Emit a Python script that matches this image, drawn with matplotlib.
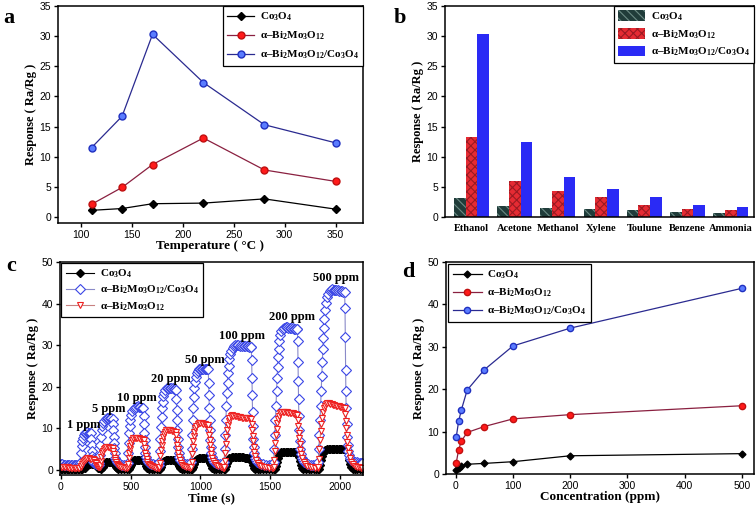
import numpy as np
import matplotlib
matplotlib.use('Agg')
import matplotlib.pyplot as plt

plt.rcParams['font.family'] = 'Liberation Sans'
plt.rcParams['mathtext.fontset'] = 'custom'
plt.rcParams['mathtext.rm'] = 'Liberation Serif:bold'
plt.rcParams['mathtext.it'] = 'Liberation Serif:bold:italic'
plt.rcParams['mathtext.bf'] = 'Liberation Serif:bold'
plt.rcParams['mathtext.default'] = 'rm'

# ---- labels
lab_co = 'Co$_3$O$_4$'
lab_bi = 'α–Bi$_2$Mo$_3$O$_{12}$'
lab_comp = 'α–Bi$_2$Mo$_3$O$_{12}$/Co$_3$O$_4$'

# ---- panel a: response vs temperature
temp = [110, 140, 170, 220, 280, 350]
a_co = [1.1, 1.4, 2.2, 2.3, 3.0, 1.3]
a_bi = [2.1, 4.9, 8.7, 13.1, 7.8, 5.9]
a_comp = [11.5, 16.7, 30.3, 22.3, 15.3, 12.3]

# ---- panel b: selectivity
gases = ['Ethanol', 'Acetone', 'Methanol', 'Xylene', 'Toulune', 'Benzene', 'Ammonia']
b_co = [3.1, 1.8, 1.5, 1.3, 1.2, 0.8, 0.6]
b_bi = [13.2, 5.9, 4.3, 3.4, 2.0, 1.3, 1.1]
b_comp = [30.3, 12.4, 6.6, 4.7, 3.3, 2.0, 1.6]

# ---- panel c: dynamic response (time s, response)
c_comp = [
    (0, 1.4), (10, 1.4), (20, 1.3), (30, 1.3), (40, 1.3), (50, 1.3), (60, 1.2), (70, 1.2), (80, 1.2),
    (90, 1.2), (100, 1.2), (110, 1.2), (120, 1.2), (130, 1.3), (136, 1.6),
    (140, 2.0), (144, 4.0), (148, 5.8), (152, 7.0), (156, 7.8), (162, 8.4), (170, 8.8), (180, 9.0),
    (190, 9.1), (200, 9.0), (210, 8.9), (214, 8.8),
    (217, 7.5), (219, 6.0), (221, 4.6), (223, 3.4), (226, 2.6), (230, 2.0), (240, 1.7), (250, 1.5),
    (260, 1.4), (270, 1.3),
    (275, 1.6), (279, 3.5), (283, 6.0), (287, 8.0), (291, 9.5), (296, 10.6), (302, 11.4), (310, 11.9),
    (320, 12.3), (330, 12.5), (340, 12.6), (350, 12.5), (360, 12.4), (370, 12.3),
    (373, 11.0), (375, 9.5), (377, 8.0), (379, 6.5), (381, 5.2), (384, 4.0), (388, 3.0), (394, 2.3),
    (402, 1.9), (412, 1.6), (425, 1.4), (440, 1.3), (455, 1.3), (468, 1.3),
    (478, 1.8), (482, 4.0), (486, 6.5), (490, 8.8), (494, 10.6), (498, 12.0), (503, 13.2), (510, 14.1),
    (520, 14.7), (530, 15.0), (540, 15.2), (550, 15.3), (560, 15.2), (570, 15.1), (580, 15.0), (590, 14.9),
    (594, 13.0), (596, 11.0), (598, 9.0), (600, 7.2), (602, 5.6), (605, 4.2), (609, 3.2), (615, 2.5),
    (623, 2.0), (633, 1.7), (645, 1.5), (660, 1.4), (675, 1.3), (690, 1.3), (700, 1.3),
    (705, 2.0), (709, 4.5), (713, 7.5), (717, 10.3), (721, 12.8), (725, 14.8), (729, 16.4), (734, 17.7),
    (740, 18.6), (748, 19.2), (758, 19.6), (770, 19.8), (780, 19.8), (790, 19.7), (800, 19.6), (810, 19.5),
    (820, 19.4), (825, 19.3),
    (828, 17.0), (830, 14.5), (832, 12.0), (834, 9.5), (836, 7.5), (839, 5.6), (843, 4.2), (848, 3.2),
    (855, 2.5), (864, 2.0), (875, 1.7), (890, 1.5), (905, 1.4), (920, 1.3),
    (932, 2.0), (936, 5.0), (940, 8.5), (944, 12.0), (948, 15.0), (952, 17.6), (956, 19.6), (960, 21.2),
    (965, 22.4), (972, 23.3), (980, 23.8), (990, 24.2), (1000, 24.4), (1010, 24.4), (1020, 24.4),
    (1030, 24.3), (1040, 24.3), (1050, 24.2), (1055, 24.2),
    (1059, 21.0), (1061, 18.0), (1063, 15.0), (1065, 12.0), (1067, 9.5), (1070, 7.2), (1073, 5.5),
    (1077, 4.2), (1083, 3.2), (1090, 2.5), (1100, 2.0), (1112, 1.7), (1125, 1.5), (1140, 1.4),
    (1155, 1.3), (1165, 1.3),
    (1170, 2.0), (1174, 5.0), (1178, 8.5), (1182, 12.0), (1186, 15.5), (1190, 18.5), (1194, 21.0),
    (1198, 23.2), (1202, 25.0), (1207, 26.6), (1213, 27.8), (1220, 28.7), (1230, 29.4), (1240, 29.8),
    (1250, 30.0), (1260, 30.1), (1270, 30.0), (1280, 29.9), (1290, 30.0), (1300, 29.9), (1310, 29.8),
    (1320, 29.8), (1330, 29.7), (1340, 29.7), (1350, 29.6), (1360, 29.6), (1364, 29.5),
    (1367, 26.5), (1369, 22.0), (1371, 18.0), (1373, 14.0), (1375, 10.5), (1378, 7.5), (1381, 5.5),
    (1385, 4.0), (1391, 3.0), (1398, 2.4), (1408, 2.0), (1420, 1.7), (1435, 1.5), (1450, 1.4),
    (1470, 1.3), (1490, 1.3), (1505, 1.3), (1518, 1.4),
    (1525, 2.0), (1529, 5.0), (1533, 8.5), (1537, 12.0), (1541, 15.5), (1545, 19.0), (1549, 22.0),
    (1553, 24.8), (1557, 27.2), (1561, 29.2), (1566, 31.0), (1572, 32.4), (1580, 33.4), (1590, 34.0),
    (1600, 34.2), (1610, 34.3), (1620, 34.3), (1630, 34.2), (1640, 34.2), (1650, 34.1), (1660, 34.1),
    (1670, 34.0), (1680, 34.0), (1690, 33.9), (1694, 33.9),
    (1697, 31.0), (1699, 26.0), (1701, 21.5), (1703, 17.0), (1705, 13.0), (1708, 9.5), (1711, 7.0),
    (1715, 5.0), (1720, 3.8), (1727, 2.9), (1735, 2.3), (1745, 1.9), (1758, 1.6), (1772, 1.4),
    (1790, 1.3), (1805, 1.3), (1820, 1.3), (1838, 1.5),
    (1845, 2.0), (1849, 5.0), (1853, 8.5), (1857, 12.0), (1861, 15.5), (1865, 19.0), (1869, 22.5),
    (1873, 26.0), (1877, 29.0), (1881, 31.8), (1885, 34.2), (1889, 36.3), (1894, 38.4), (1900, 40.2),
    (1907, 41.5), (1915, 42.4), (1925, 43.0), (1935, 43.3), (1945, 43.4), (1955, 43.3), (1965, 43.3),
    (1975, 43.2), (1985, 43.2), (1995, 43.1), (2005, 43.0), (2015, 43.0), (2025, 42.9), (2033, 42.9),
    (2036, 39.0), (2038, 32.0), (2040, 24.0), (2042, 19.0), (2044, 15.0), (2047, 11.0), (2050, 8.0),
    (2054, 6.0), (2059, 4.5), (2065, 3.5), (2072, 2.8), (2080, 2.4), (2090, 2.1), (2100, 2.0),
    (2110, 1.9), (2120, 1.9), (2130, 1.8), (2140, 1.8), (2150, 1.8), (2160, 1.8),
]

c_bi = [
    (0, 0.8), (10, 0.8), (20, 0.7), (30, 0.7), (40, 0.7), (50, 0.7), (60, 0.6), (70, 0.6), (80, 0.6),
    (90, 0.6), (100, 0.6), (110, 0.6), (120, 0.6), (130, 0.6), (140, 0.7),
    (146, 1.0), (152, 1.5), (158, 1.9), (164, 2.2), (170, 2.5), (178, 2.7), (188, 2.8), (198, 2.8),
    (208, 2.7), (218, 2.7), (226, 2.6), (234, 2.5), (240, 2.3), (244, 2.0), (248, 1.6), (252, 1.3),
    (258, 1.0), (265, 0.8), (272, 0.7),
    (277, 0.8), (281, 1.2), (285, 2.2), (290, 3.2), (295, 4.0), (300, 4.6), (306, 5.1), (314, 5.4),
    (324, 5.6), (334, 5.6), (344, 5.5), (354, 5.4), (364, 5.3), (372, 5.2), (376, 4.6), (380, 3.8),
    (384, 3.0), (388, 2.4), (393, 1.9), (400, 1.5), (408, 1.2), (418, 1.0), (430, 0.8), (445, 0.7),
    (460, 0.6), (472, 0.6),
    (478, 0.7), (482, 1.5), (486, 2.8), (490, 4.0), (494, 5.0), (498, 5.8), (503, 6.6), (510, 7.2),
    (518, 7.6), (528, 7.8), (538, 7.8), (548, 7.7), (558, 7.6), (568, 7.5), (578, 7.4), (588, 7.3),
    (593, 7.2), (597, 6.3), (601, 5.2), (605, 4.2), (609, 3.3), (614, 2.6), (620, 2.0), (628, 1.5),
    (638, 1.1), (650, 0.9), (665, 0.7), (680, 0.6), (695, 0.6), (703, 0.6),
    (705, 0.7), (709, 1.8), (713, 3.3), (717, 4.8), (721, 6.0), (725, 7.0), (730, 7.9), (736, 8.6),
    (744, 9.2), (754, 9.6), (764, 9.7), (774, 9.6), (784, 9.5), (794, 9.4), (804, 9.3), (814, 9.2),
    (824, 9.1), (828, 8.3), (831, 7.2), (834, 6.0), (837, 5.0), (841, 4.0), (846, 3.1), (852, 2.4),
    (860, 1.8), (870, 1.3), (882, 1.0), (895, 0.8), (910, 0.7), (925, 0.6),
    (932, 0.7), (936, 2.0), (940, 3.8), (944, 5.5), (948, 7.0), (952, 8.2), (957, 9.2), (963, 10.0),
    (970, 10.6), (980, 11.0), (990, 11.2), (1000, 11.3), (1010, 11.2), (1020, 11.1), (1030, 11.0),
    (1040, 10.9), (1050, 10.8), (1056, 10.7), (1060, 9.6), (1063, 8.4), (1066, 7.2), (1069, 6.0),
    (1073, 4.8), (1078, 3.8), (1084, 2.9), (1092, 2.2), (1102, 1.6), (1114, 1.2), (1128, 0.9),
    (1144, 0.7), (1160, 0.6), (1168, 0.6),
    (1170, 0.7), (1174, 2.2), (1178, 4.2), (1182, 6.2), (1186, 8.0), (1190, 9.5), (1195, 10.8),
    (1201, 11.8), (1208, 12.6), (1216, 13.0), (1226, 13.2), (1236, 13.1), (1246, 13.0), (1256, 12.9),
    (1266, 12.8), (1276, 12.7), (1286, 12.7), (1296, 12.6), (1306, 12.6), (1316, 12.5), (1326, 12.5),
    (1336, 12.4), (1346, 12.4), (1356, 12.3), (1364, 12.3), (1368, 11.0), (1371, 9.6), (1374, 8.2),
    (1377, 6.9), (1381, 5.6), (1386, 4.4), (1392, 3.4), (1400, 2.5), (1410, 1.8), (1422, 1.3),
    (1436, 1.0), (1452, 0.8), (1470, 0.7), (1490, 0.6), (1510, 0.6), (1522, 0.6),
    (1525, 0.7), (1529, 2.4), (1533, 4.5), (1537, 6.6), (1541, 8.4), (1545, 9.9), (1550, 11.2),
    (1556, 12.3), (1563, 13.1), (1571, 13.6), (1580, 13.9), (1590, 14.0), (1600, 14.0), (1610, 13.9),
    (1620, 13.9), (1630, 13.8), (1640, 13.7), (1650, 13.7), (1660, 13.6), (1670, 13.5), (1680, 13.4),
    (1690, 13.3), (1695, 13.3), (1698, 12.0), (1701, 10.5), (1704, 9.0), (1707, 7.6), (1711, 6.2),
    (1716, 4.9), (1722, 3.8), (1730, 2.8), (1740, 2.0), (1752, 1.4), (1766, 1.0), (1782, 0.8),
    (1800, 0.7), (1820, 0.6), (1840, 0.6),
    (1845, 0.7), (1849, 2.6), (1853, 5.0), (1857, 7.3), (1861, 9.3), (1865, 11.0), (1870, 12.6),
    (1876, 13.9), (1883, 14.9), (1891, 15.5), (1900, 15.9), (1910, 16.0), (1920, 16.0), (1930, 15.9),
    (1940, 15.8), (1950, 15.7), (1960, 15.6), (1970, 15.5), (1980, 15.4), (1990, 15.3), (2000, 15.2),
    (2010, 15.1), (2020, 15.0), (2030, 15.0), (2035, 14.9), (2038, 13.5), (2041, 11.8), (2044, 10.0),
    (2047, 8.4), (2051, 6.8), (2056, 5.3), (2062, 4.0), (2070, 2.9), (2080, 2.0), (2092, 1.4),
    (2106, 1.0), (2120, 0.8), (2135, 0.7), (2150, 0.6), (2160, 0.6),
]

c_co = [
    (0, 0.3), (10, 0.3), (20, 0.3), (30, 0.3), (40, 0.3), (50, 0.3), (60, 0.3), (70, 0.3), (80, 0.3),
    (90, 0.3), (100, 0.3), (110, 0.3), (120, 0.3), (130, 0.3), (140, 0.3), (150, 0.3),
    (160, 0.4), (170, 0.6), (180, 0.9), (190, 1.2), (200, 1.4), (210, 1.5), (220, 1.5), (230, 1.5),
    (240, 1.4), (248, 1.2), (256, 0.9), (264, 0.6), (274, 0.4), (284, 0.3),
    (290, 0.4), (298, 0.8), (306, 1.3), (314, 1.7), (322, 1.9), (332, 2.0), (342, 2.0), (352, 2.0),
    (362, 2.0), (372, 1.9), (380, 1.6), (386, 1.2), (392, 0.8), (400, 0.5), (410, 0.3), (430, 0.2),
    (450, 0.2), (470, 0.2),
    (485, 0.3), (492, 0.7), (499, 1.3), (506, 1.8), (513, 2.1), (522, 2.3), (532, 2.4), (542, 2.4),
    (552, 2.4), (562, 2.4), (572, 2.4), (582, 2.4), (592, 2.3), (600, 2.0), (606, 1.5), (612, 1.0),
    (620, 0.6), (630, 0.3), (650, 0.2), (670, 0.2), (690, 0.2), (705, 0.2),
    (712, 0.3), (719, 0.8), (726, 1.4), (733, 1.9), (740, 2.2), (750, 2.4), (760, 2.5), (770, 2.5),
    (780, 2.5), (790, 2.5), (800, 2.5), (810, 2.5), (820, 2.5), (828, 2.4), (835, 2.0), (841, 1.5),
    (847, 1.0), (854, 0.6), (864, 0.3), (880, 0.2), (900, 0.2), (920, 0.2), (935, 0.2),
    (940, 0.3), (947, 0.8), (954, 1.5), (961, 2.1), (968, 2.5), (978, 2.7), (988, 2.8), (998, 2.8),
    (1008, 2.8), (1018, 2.8), (1028, 2.8), (1038, 2.8), (1048, 2.8), (1058, 2.7), (1065, 2.3),
    (1071, 1.7), (1077, 1.1), (1084, 0.6), (1094, 0.3), (1110, 0.2), (1130, 0.2), (1150, 0.2),
    (1170, 0.2),
    (1178, 0.3), (1185, 0.9), (1192, 1.7), (1199, 2.4), (1206, 2.8), (1216, 3.0), (1226, 3.1),
    (1236, 3.1), (1246, 3.1), (1256, 3.1), (1266, 3.1), (1276, 3.1), (1286, 3.1), (1296, 3.1),
    (1306, 3.1), (1316, 3.0), (1326, 3.0), (1336, 3.0), (1346, 3.0), (1355, 2.9), (1362, 2.5),
    (1368, 1.9), (1374, 1.2), (1381, 0.6), (1391, 0.3), (1410, 0.2), (1430, 0.2), (1450, 0.2),
    (1470, 0.2), (1490, 0.2), (1510, 0.2), (1525, 0.2),
    (1532, 0.3), (1539, 1.0), (1546, 2.0), (1553, 3.0), (1560, 3.7), (1570, 4.1), (1580, 4.3),
    (1590, 4.3), (1600, 4.3), (1610, 4.3), (1620, 4.3), (1630, 4.3), (1640, 4.3), (1650, 4.3),
    (1660, 4.3), (1670, 4.3), (1680, 4.3), (1690, 4.3), (1698, 4.0), (1705, 3.2), (1712, 2.2),
    (1719, 1.3), (1727, 0.6), (1737, 0.3), (1755, 0.2), (1775, 0.2), (1795, 0.2), (1815, 0.2),
    (1830, 0.2), (1845, 0.2),
    (1852, 0.3), (1859, 1.1), (1866, 2.3), (1873, 3.4), (1880, 4.2), (1890, 4.7), (1900, 4.9),
    (1910, 5.0), (1920, 5.0), (1930, 5.0), (1940, 5.0), (1950, 5.0), (1960, 5.0), (1970, 5.0),
    (1980, 5.0), (1990, 5.0), (2000, 5.0), (2010, 5.0), (2020, 5.0), (2030, 5.0), (2040, 5.0),
    (2048, 4.9), (2055, 4.5), (2062, 3.6), (2068, 2.5), (2074, 1.5), (2081, 0.7), (2090, 0.3),
    (2105, 0.2), (2120, 0.2), (2140, 0.2), (2160, 0.2),
]

ppm_text = ['1 ppm', '5 ppm', '10 ppm', '20 ppm', '50 ppm', '100 ppm', '200 ppm', '500 ppm']
ppm_t = [160, 346, 543, 785, 1029, 1300, 1657, 1969]
ppm_y = [10.8, 14.7, 17.3, 21.9, 26.4, 32.2, 36.8, 46.2]

# ---- panel d: response vs concentration
conc = [1, 5, 10, 20, 50, 100, 200, 500]
d_co = [1.0, 1.5, 2.0, 2.3, 2.5, 2.9, 4.3, 4.8]
d_bi = [2.7, 5.7, 7.8, 9.8, 11.2, 13.0, 14.0, 16.1]
d_comp = [8.8, 12.4, 15.2, 19.8, 24.6, 30.2, 34.4, 43.8]

serif = 'Liberation Serif'
lab_font = dict(family=serif, weight='bold', size=9)
xlab_font = dict(family=serif, weight='bold', size=9.5)
leg_font = dict(family=serif, weight='bold', size=8)


def style_axes(ax):
    for s in ax.spines.values():
        s.set_linewidth(1.1)
    ax.tick_params(direction='out', length=3, width=1, labelsize=7.5, pad=2, top=False, right=False)


def panel_label(fig, x, y, s):
    fig.text(x / 756, 1 - y / 505, s, fontfamily=serif, fontweight='bold', fontsize=16,
             ha='left', va='center')


def box_legend(ax, loc, pad, hl, sp):
    leg = ax.legend(loc=loc, prop=leg_font, fancybox=False, edgecolor='k', framealpha=1,
                    borderaxespad=pad, handlelength=hl, labelspacing=sp, borderpad=0.4,
                    handletextpad=0.5, numpoints=1)
    leg.get_frame().set_linewidth(0.9)
    return leg


fig = plt.figure(figsize=(7.56, 5.05), dpi=100)

# ---------------- a
ax = fig.add_axes([58 / 756, 1 - 223 / 505, 305 / 756, 217 / 505])
ax.plot(temp, a_co, '-', color='k', lw=0.9, marker='D', ms=4, mfc='k', mec='k', label=lab_co)
ax.plot(temp, a_bi, '-', color='#8a2040', lw=0.9, marker='o', ms=5, mfc='#ff1a1a', mec='#c01010', label=lab_bi)
ax.plot(temp, a_comp, '-', color='#2a2a90', lw=0.9, marker='o', ms=5, mfc='#5a7cff', mec='#2030c0', label=lab_comp)
ax.set_xlim(77, 377)
ax.set_ylim(-1, 35)
ax.set_xticks([100, 150, 200, 250, 300, 350])
ax.set_yticks(range(0, 36, 5))
ax.set_xlabel('Temperature ( °C )', fontdict=xlab_font, labelpad=0)
ax.set_ylabel('Response ( Ra/Rg )', fontdict=lab_font, labelpad=2)
style_axes(ax)
box_legend(ax, 'upper right', 0, 2.4, 0.6)
panel_label(fig, 3, 18, 'a')

# ---------------- b
ax = fig.add_axes([445 / 756, 1 - 217 / 505, 309 / 756, 211 / 505])
x = np.arange(len(gases))
w = 0.27
plt.rcParams['hatch.linewidth'] = 0.8
ax.bar(x - w, b_co, w, color='#203c3a', edgecolor='#6b8a84', hatch='\\\\\\\\', lw=0, label=lab_co)
ax.bar(x, b_bi, w, color='#e52b33', edgecolor='#9a1a22', hatch='xxxx', lw=0, label=lab_bi)
ax.bar(x + w, b_comp, w, color='#2a2af5', lw=0, label=lab_comp)
ax.set_xlim(-0.613, 6.54)
ax.set_ylim(0, 35)
ax.set_yticks(range(0, 36, 5))
ax.set_xticks(x)
ax.set_xticklabels(gases, fontfamily=serif, fontweight='bold', fontsize=7.5)
ax.set_ylabel('Response ( Ra/Rg )', fontdict=lab_font, labelpad=2)
style_axes(ax)
ax.tick_params(axis='x', length=0, pad=5)
leg = ax.legend(loc='upper right', prop=leg_font, fancybox=False, edgecolor='k', framealpha=1,
                borderaxespad=0, handlelength=2.4, handleheight=1.1, labelspacing=0.45, borderpad=0.4,
                handletextpad=0.5)
leg.get_frame().set_linewidth(0.9)
panel_label(fig, 394, 18, 'b')

# ---------------- c
ax = fig.add_axes([60 / 756, 1 - 475 / 505, 303 / 756, 213 / 505])
t_co, r_co = zip(*c_co)
t_comp, r_comp = zip(*c_comp)
t_bi, r_bi = zip(*c_bi)
ax.plot(t_co, r_co, '-', color='k', lw=0.8, marker='D', ms=3.8, mfc='k', mec='k', label=lab_co)
ax.plot(t_comp, r_comp, '-', color='#8a8ac8', lw=0.8, marker='D', ms=5, mfc='white', mec='#3a46e6',
        mew=0.8, label=lab_comp)
ax.plot(t_bi, r_bi, '-', color='#c88080', lw=0.8, marker='v', ms=5, mfc='white', mec='#ee2020',
        mew=0.8, label=lab_bi)
for s, tt, yy in zip(ppm_text, ppm_t, ppm_y):
    ax.text(tt, yy, s, fontfamily=serif, fontweight='bold', fontsize=9, ha='center', va='center')
ax.set_xlim(-7, 2165)
ax.set_ylim(-1.2, 50)
ax.set_xticks([0, 500, 1000, 1500, 2000])
ax.set_yticks(range(0, 51, 10))
ax.set_xlabel('Time (s)', fontdict=xlab_font, labelpad=0)
ax.set_ylabel('Response ( Ra/Rg )', fontdict=lab_font, labelpad=2)
style_axes(ax)
box_legend(ax, 'upper left', 0.1, 2.6, 0.35)
panel_label(fig, 6, 266, 'c')

# ---------------- d
ax = fig.add_axes([446 / 756, 1 - 474 / 505, 308 / 756, 212 / 505])
ax.plot(conc, d_co, '-', color='k', lw=0.9, marker='D', ms=3.5, mfc='k', mec='k', label=lab_co)
ax.plot(conc, d_bi, '-', color='#8a2040', lw=0.9, marker='o', ms=4.5, mfc='#ff1a1a', mec='#c01010', label=lab_bi)
ax.plot(conc, d_comp, '-', color='#2a2a90', lw=0.9, marker='o', ms=4.5, mfc='#5a7cff', mec='#2030c0', label=lab_comp)
ax.set_xlim(-17, 521)
ax.set_ylim(0, 50)
ax.set_xticks(range(0, 501, 100))
ax.set_yticks(range(0, 51, 10))
ax.set_xlabel('Concentration (ppm)', fontdict=xlab_font, labelpad=0)
ax.set_ylabel('Response ( Ra/Rg )', fontdict=lab_font, labelpad=2)
style_axes(ax)
box_legend(ax, 'upper left', 0.2, 2.6, 0.5)
panel_label(fig, 402, 272, 'd')

fig.savefig('out.png', dpi=100)
